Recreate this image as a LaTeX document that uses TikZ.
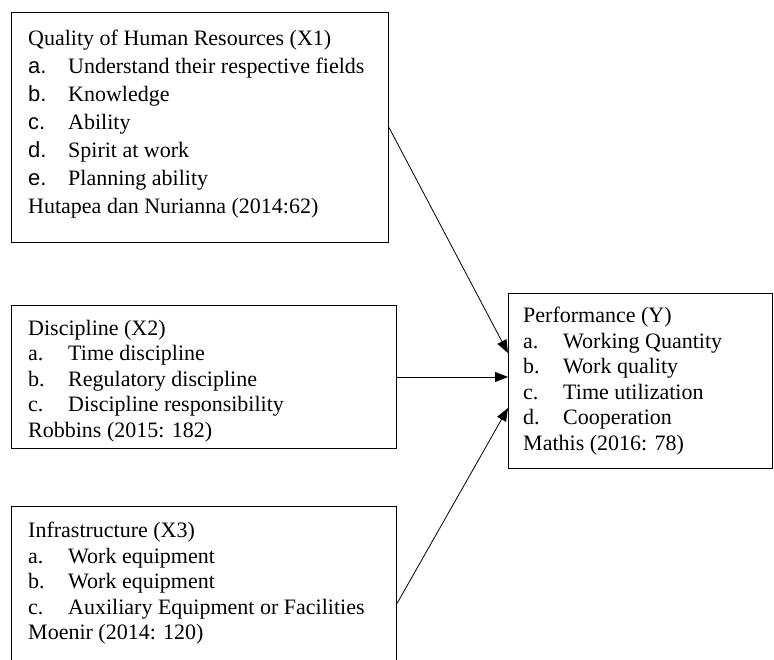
\documentclass[tikz,border=0pt]{standalone}
\usepackage{fontspec}
\setmainfont{Liberation Serif}
\setsansfont{Liberation Sans}
\usetikzlibrary{arrows.meta}
\tikzset{
  varbox/.style={draw, line width=1pt, anchor=north west, inner sep=0pt},
  vartext/.style={anchor=north west, align=left, inner sep=0pt, font=\fontsize{22}{25.5}\selectfont},
  link/.style={-{Triangle[length=13pt,width=10pt]}, line width=0.8pt}
}
\newcommand{\itm}[2]{\makebox[40pt][l]{#1}#2}
\begin{document}
\begin{tikzpicture}[x=1pt,y=-1pt]
\useasboundingbox (0,0) rectangle (774,660);
\clip (0,0) rectangle (774,660);
\node[varbox, minimum width=377pt, minimum height=230pt] (quality) at (11,12) {};
\node[varbox, minimum width=385pt, minimum height=143pt] (discipline) at (11,305) {};
\node[varbox, minimum width=385pt, minimum height=194pt] (infra) at (11,506) {};
\node[varbox, minimum width=264pt, minimum height=175pt] (perf) at (508,293) {};
\node[vartext, font=\fontsize{22}{28}\selectfont] (qualitytxt) at (28,30) {Quality of Human Resources (X1)\\
  \itm{\sffamily a.}{Understand their respective fields}\\
  \itm{\sffamily b.}{Knowledge}\\
  \itm{\sffamily c.}{Ability}\\
  \itm{\sffamily d.}{Spirit at work}\\
  \itm{\sffamily e.}{Planning ability}\\
  Hutapea dan Nurianna (2014:62)};
\node[vartext] (disciplinetxt) at (28,320) {Discipline (X2)\\
  \itm{a.}{Time discipline}\\
  \itm{b.}{Regulatory discipline}\\
  \itm{c.}{Discipline responsibility}\\
  Robbins (2015: 182)};
\node[vartext] (infratxt) at (28,522) {Infrastructure (X3)\\
  \itm{a.}{Work equipment}\\
  \itm{b.}{Work equipment}\\
  \itm{c.}{Auxiliary Equipment or Facilities}\\
  Moenir (2014: 120)};
\node[vartext] (perftxt) at (523,307) {Performance (Y)\\
  \itm{a.}{Working Quantity}\\
  \itm{b.}{Work quality}\\
  \itm{c.}{Time utilization}\\
  \itm{d.}{Cooperation}\\
  Mathis (2016: 78)};
\draw[link] (quality.east) -- ([yshift=28pt]perf.west);
\draw[link] (discipline.east) -- (discipline.east -| perf.west);
\draw[link] (infra.east) -- ([yshift=-27pt]perf.west);
\end{tikzpicture}
\end{document}
